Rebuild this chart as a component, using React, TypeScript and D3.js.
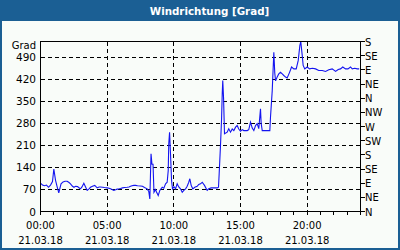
import React from "react";
import * as d3 from "d3";

const title = "Windrichtung [Grad]";
const yUnit = "Grad";
const leftTicks = [0, 70, 140, 210, 280, 350, 420, 490];
const compassTicks = [0, 45, 90, 135, 180, 225, 270, 315, 360, 405, 450, 495, 540];
const compassLabels = ["N", "NE", "E", "SE", "S", "SW", "W", "NW", "N", "NE", "E", "SE", "S"];
const hourTicks = d3.range(0, 25);
const labelHours = [0, 5, 10, 15, 20];
const timeLabels = ["00:00", "05:00", "10:00", "15:00", "20:00"];
const dateLabel = "21.03.18";

// [hour of day, wind direction in degrees]
const windDirection: [number, number][] = [
  [0, 90], [0.15, 84], [0.3, 82], [0.45, 84], [0.6, 77], [0.75, 84], [0.9, 95], [1.0, 135],
  [1.125, 100], [1.24, 80], [1.37, 59], [1.54, 88], [1.69, 94], [1.84, 96], [2.0, 96],
  [2.14, 92], [2.25, 88], [2.4, 80], [2.51, 77], [2.63, 80], [2.78, 79], [2.93, 74],
  [3.0, 72], [3.11, 78], [3.25, 90], [3.38, 78], [3.5, 67], [3.64, 72], [3.75, 77],
  [3.9, 80], [4.07, 83], [4.25, 75], [4.39, 78], [4.5, 78], [4.65, 77], [4.8, 76],
  [5.0, 75], [5.14, 74], [5.25, 72], [5.4, 69], [5.5, 67], [5.63, 69], [5.75, 71],
  [5.89, 72], [6.0, 73], [6.15, 75], [6.3, 76], [6.5, 77], [6.64, 78], [6.75, 80],
  [6.86, 82], [7.0, 83], [7.13, 83], [7.28, 82], [7.5, 81], [7.65, 80], [7.8, 76],
  [8.0, 72], [8.12, 64], [8.2, 40], [8.29, 183], [8.36, 150], [8.44, 150], [8.51, 61],
  [8.63, 70], [8.7, 62], [8.83, 51], [8.95, 67], [9.13, 77], [9.25, 74], [9.38, 88],
  [9.5, 93], [9.58, 130], [9.62, 215], [9.68, 252], [9.75, 184], [9.83, 98], [9.9, 72],
  [10.01, 79], [10.13, 72], [10.25, 88], [10.37, 78], [10.5, 72], [10.63, 61], [10.75, 67],
  [10.88, 72], [11.0, 80], [11.12, 93], [11.2, 104], [11.3, 83], [11.42, 72], [11.57, 77],
  [11.75, 80], [11.87, 86], [12.0, 88], [12.13, 93], [12.3, 83], [12.5, 67], [12.62, 72],
  [12.8, 75], [13.0, 75], [13.25, 75], [13.35, 77], [13.4, 120], [13.5, 210], [13.58, 294],
  [13.63, 374], [13.67, 416], [13.73, 360], [13.8, 247], [14.0, 252], [14.12, 263],
  [14.25, 252], [14.38, 262], [14.5, 257], [14.63, 268], [14.75, 273], [14.87, 262],
  [15.0, 255], [15.13, 260], [15.25, 257], [15.38, 257], [15.5, 257], [15.62, 260],
  [15.75, 284], [15.88, 265], [16.0, 257], [16.13, 273], [16.25, 279], [16.37, 263],
  [16.5, 326], [16.55, 280], [16.63, 257], [16.75, 257], [17.0, 257], [17.2, 257],
  [17.25, 300], [17.38, 384], [17.5, 506], [17.57, 440], [17.63, 415], [17.75, 427],
  [17.87, 437], [18.0, 442], [18.13, 437], [18.25, 432], [18.38, 427], [18.5, 424],
  [18.68, 442], [18.83, 459], [19.0, 453], [19.18, 453], [19.33, 480], [19.45, 527],
  [19.52, 540], [19.63, 496], [19.7, 464], [19.82, 453], [20.0, 459], [20.18, 453],
  [20.4, 455], [20.63, 453], [20.87, 448], [21.13, 448], [21.38, 445], [21.62, 450],
  [21.88, 453], [22.13, 445], [22.33, 451], [22.5, 453], [22.67, 459], [22.88, 453],
  [23.06, 453], [23.25, 459], [23.38, 453], [23.57, 455], [23.75, 453], [23.9, 453],
];

const FRAME = "#1b5f94";
const FONT = "DejaVu Sans, sans-serif";

export default function App() {
  const left = 40.5, right = 360.5, top = 41.5, bottom = 211.5;
  const x = d3.scaleLinear().domain([0, 24]).range([left, right]);
  const y = d3.scaleLinear().domain([0, 540]).range([bottom, top]);
  const line = d3
    .line<[number, number]>()
    .x((d) => x(d[0]))
    .y((d) => y(d[1]));
  const px = (v: number) => Math.round(v - 0.5) + 0.5;

  return (
    <svg
      width={400}
      height={250}
      style={{ position: "fixed", left: 0, top: 0, display: "block" }}
    >
      <rect x={0} y={0} width={400} height={250} fill={FRAME} />
      <rect x={2} y={21} width={396} height={227} fill="#f9fcf9" />
      <text
        x={209.5}
        y={15}
        textAnchor="middle"
        fill="#ffffff"
        fontFamily={FONT}
        fontWeight="bold"
        fontSize={10.3}
      >
        {title}
      </text>

      {/* grid */}
      {leftTicks
        .filter((t) => t > 0)
        .map((t) => (
          <line
            key={"gy" + t}
            x1={left}
            x2={right}
            y1={px(y(t))}
            y2={px(y(t))}
            stroke="#000"
            strokeDasharray="4,3"
            shapeRendering="crispEdges"
          />
        ))}
      {labelHours
        .filter((h) => h > 0)
        .map((h) => (
          <line
            key={"gx" + h}
            x1={px(x(h))}
            x2={px(x(h))}
            y1={top}
            y2={bottom}
            stroke="#000"
            strokeDasharray="4,3"
            shapeRendering="crispEdges"
          />
        ))}

      {/* data */}
      <path
        d={line(windDirection) || ""}
        fill="none"
        stroke="#1414f0"
        strokeWidth={1.1}
      />

      {/* frame */}
      <rect
        x={left}
        y={top}
        width={right - left}
        height={bottom - top}
        fill="none"
        stroke="#000"
        shapeRendering="crispEdges"
      />

      {/* bottom ticks */}
      {hourTicks.map((h) => (
        <line
          key={"tx" + h}
          x1={px(x(h))}
          x2={px(x(h))}
          y1={bottom}
          y2={bottom + 3}
          stroke="#000"
          shapeRendering="crispEdges"
        />
      ))}
      {labelHours.map((h, i) => (
        <g key={"lx" + h}>
          <text x={x(h)} y={229} textAnchor="middle" fontFamily={FONT} fontSize={10} fill="#000">
            {timeLabels[i]}
          </text>
          <text x={x(h)} y={244} textAnchor="middle" fontFamily={FONT} fontSize={10} fill="#000">
            {dateLabel}
          </text>
        </g>
      ))}

      {/* left labels */}
      {leftTicks.map((t) => (
        <text
          key={"ly" + t}
          x={36}
          y={y(t) + 4}
          textAnchor="end"
          fontFamily={FONT}
          fontSize={10.5}
          fill="#000"
        >
          {t}
        </text>
      ))}
      <text x={36} y={49} textAnchor="end" fontFamily={FONT} fontSize={10} fill="#000">
        {yUnit}
      </text>

      {/* right compass axis */}
      {compassTicks.map((t, i) => (
        <g key={"c" + i}>
          <line
            x1={right}
            x2={right + 4}
            y1={px(y(t))}
            y2={px(y(t))}
            stroke="#000"
            shapeRendering="crispEdges"
          />
          <text x={365} y={y(t) + 4} fontFamily={FONT} fontSize={10} fill="#000">
            {compassLabels[i]}
          </text>
        </g>
      ))}
    </svg>
  );
}
